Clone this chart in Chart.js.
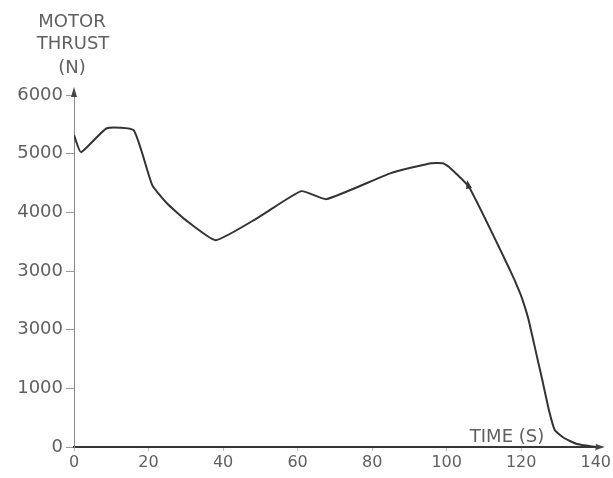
<!DOCTYPE html>
<html>
<head>
<meta charset="utf-8">
<script src="https://cdn.jsdelivr.net/npm/chart.js@4.4.1/dist/chart.umd.min.js"></script>
<style>
  html, body { margin: 0; padding: 0; background: #fff; }
  #wrap { width: 613px; height: 478px; }
</style>
</head>
<body>
<div id="wrap"><canvas id="thrust" width="613" height="478"></canvas></div>
<script>
// Motor thrust curve
const timeSec = [0, 1.9, 8.8, 16, 21, 25, 30, 38, 49.6, 61, 67.7, 85, 95.7, 99, 101, 106, 117, 119.7, 121, 122, 123.7, 125.6, 127.5, 129, 131.5, 135, 140];
const thrustN = [5315, 5025, 5434, 5400, 4463, 4150, 3867, 3526, 3918, 4361, 4225, 4668, 4838, 4838, 4753, 4430, 3015, 2623, 2385, 2163, 1690, 1158, 613, 290, 153, 51, 0];

// tick labels as printed (the 2000 tick is printed "3000" in the source)
const yTickValues = [0, 1000, 2000, 3000, 4000, 5000, 6000];
const yTickLabels = ['0', '1000', '3000', '3000', '4000', '5000', '6000'];
const xTickLabels = ['0', '20', '40', '60', '80', '100', '120', '140'];

const INK = '#606060';
const FONT = "'DejaVu Sans', Arial, sans-serif";

const points = timeSec.map((t, i) => ({ x: t, y: thrustN[i] }));

// axis titles, axis arrowheads and the small arrow on the curve
const decorPlugin = {
  id: 'decor',
  afterDraw(chart) {
    const { ctx, chartArea } = chart;
    const xs = chart.scales.x, ys = chart.scales.y;
    ctx.save();
    ctx.fillStyle = INK;
    ctx.font = '18px ' + FONT;
    ctx.textAlign = 'center';
    ctx.textBaseline = 'middle';
    ctx.fillText('MOTOR', 72, 22);
    ctx.fillText('THRUST', 73, 44);
    ctx.fillText('(N)', 72, 68);
    ctx.fillText('TIME (S)', 507, 437);

    // y axis arrow
    const ax = xs.getPixelForValue(0);
    ctx.fillStyle = '#444';
    ctx.beginPath();
    ctx.moveTo(ax, chartArea.top - 8);
    ctx.lineTo(ax - 3, chartArea.top + 2);
    ctx.lineTo(ax + 3, chartArea.top + 2);
    ctx.closePath();
    ctx.fill();
    // x axis arrow
    const ay = ys.getPixelForValue(0);
    ctx.beginPath();
    ctx.moveTo(chartArea.right + 9, ay);
    ctx.lineTo(chartArea.right, ay - 3);
    ctx.lineTo(chartArea.right, ay + 3);
    ctx.closePath();
    ctx.fill();
    // arrow on the falling part of the curve
    const px = xs.getPixelForValue(106), py = ys.getPixelForValue(4430);
    ctx.fillStyle = '#333';
    ctx.beginPath();
    ctx.moveTo(px - 2, py - 7);
    ctx.lineTo(px - 3, py + 2);
    ctx.lineTo(px + 3, py + 1);
    ctx.closePath();
    ctx.fill();
    ctx.restore();
  }
};

new Chart(document.getElementById('thrust'), {
  type: 'line',
  data: {
    datasets: [{
      data: points,
      borderColor: '#333',
      borderWidth: 2,
      pointRadius: 0,
      fill: false,
      tension: 0.15
    }]
  },
  options: {
    responsive: false,
    animation: false,
    layout: { padding: { top: 95, right: 14, left: 0, bottom: 0 } },
    plugins: {
      legend: { display: false },
      tooltip: { enabled: false }
    },
    scales: {
      x: {
        type: 'linear',
        min: 0,
        max: 140,
        afterFit: s => { s.height = 31; },
        afterBuildTicks: s => { s.ticks = xTickLabels.map((_, i) => ({ value: i * 20 })); },
        ticks: {
          color: INK,
          font: { family: FONT, size: 16 },
          padding: 2,
          maxRotation: 0,
          callback: (v, i) => xTickLabels[i]
        },
        grid: { drawOnChartArea: false, drawTicks: true, tickLength: 4, color: '#bbb' },
        border: { display: true, color: '#2f3a36', width: 2 }
      },
      y: {
        type: 'linear',
        min: 0,
        max: 6000,
        afterFit: s => { s.width = 74; },
        afterBuildTicks: s => { s.ticks = yTickValues.map(v => ({ value: v })); },
        ticks: {
          color: INK,
          font: { family: FONT, size: 18 },
          padding: 3,
          callback: (v, i) => yTickLabels[i]
        },
        grid: { drawOnChartArea: false, drawTicks: true, tickLength: 8, color: '#999' },
        border: { display: true, color: '#888', width: 1 }
      }
    }
  },
  plugins: [decorPlugin]
});
</script>
</body>
</html>
